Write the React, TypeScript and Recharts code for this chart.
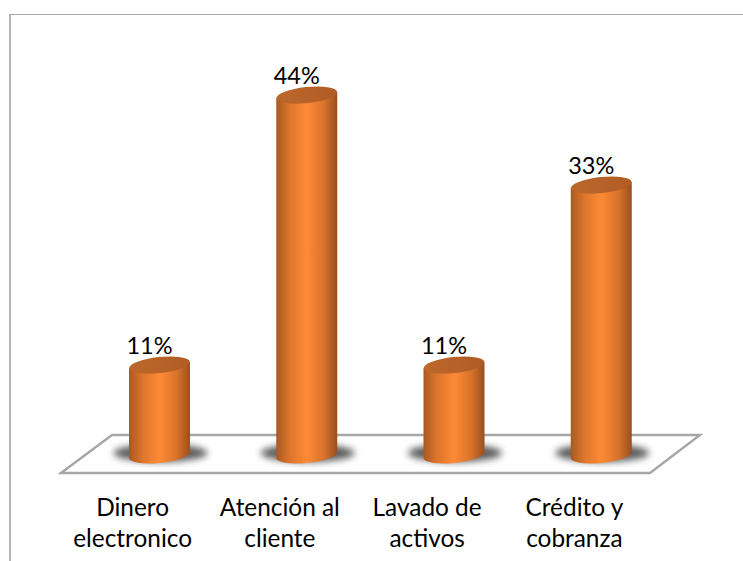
import { BarChart, Bar, XAxis, YAxis, LabelList, usePlotArea } from "recharts";

const categories = ["Dinero electronico", "Atención al cliente", "Lavado de activos", "Crédito y cobranza"];
const tickLines = [
  ["Dinero", "electronico"],
  ["Atención al", "cliente"],
  ["Lavado de", "activos"],
  ["Crédito y", "cobranza"],
];
const shares = [11, 44, 11, 33];

const data = categories.map((nombre, i) => ({ nombre, valor: shares[i] }));

const FONT = "Lato, 'Open Sans', sans-serif";

function Floor() {
  const plot = usePlotArea();
  if (!plot) return null;
  const left = plot.x;
  const right = plot.x + plot.width;
  const base = plot.y + plot.height;
  const pts = [
    [left - 25, base + 18],
    [left + 26, base - 20],
    [right + 25, base - 20],
    [right - 25, base + 18],
  ];
  return <polygon points={pts.map((p) => p.join(",")).join(" ")} fill="#ffffff" stroke="#a6a6a6" strokeWidth={2.4} />;
}

function Cylinder(props: any) {
  const { x, y, width, height } = props;
  const rx = width / 2;
  const bottom = y + height;
  const cx = x + rx;
  const tilt = 3;
  return (
    <g>
      <ellipse cx={cx + 1} cy={bottom - 2} rx={47} ry={9} fill="#3f3f3f" opacity={0.85} filter="url(#sombra)" />
      <path
        d={`M${x},${y + tilt} L${x},${bottom + tilt} A${rx},8 -6 0 0 ${x + width},${bottom - tilt} L${x + width},${y - tilt} Z`}
        fill="url(#cuerpo)"
      />
      <ellipse cx={cx} cy={y} rx={rx} ry={8} transform={`rotate(-6 ${cx} ${y})`} fill="url(#tapa)" />
    </g>
  );
}

function CategoryTick(props: any) {
  const { x, y, index } = props;
  return (
    <text x={x - 27} y={y} textAnchor="middle" fontFamily={FONT} fontSize={24.4} fill="#000000">
      {tickLines[index].map((line, i) => (
        <tspan key={line} x={x - 27} dy={i === 0 ? 53 : 30.5}>
          {line}
        </tspan>
      ))}
    </text>
  );
}

export default function App() {
  return (
    <div style={{ position: "absolute", left: 0, top: 0, width: 743, height: 561, overflow: "hidden", background: "#fff" }}>
      <div
        style={{
          position: "absolute",
          left: 9,
          top: 14,
          width: 734,
          height: 547,
          borderLeft: "2px solid #b4b4b4",
          borderTop: "1px solid #a6a6a6",
        }}
      />
      <div style={{ position: "absolute", left: 0, top: 0 }}>
        <BarChart width={743} height={561} data={data} margin={{ top: 46, right: 68, bottom: 0, left: 86 }} barSize={61}>
          <defs>
            <linearGradient id="cuerpo" x1="0" y1="0" x2="1" y2="0">
              <stop offset="0%" stopColor="#a95923" />
              <stop offset="22%" stopColor="#dc752b" />
              <stop offset="50%" stopColor="#ff8a35" />
              <stop offset="78%" stopColor="#d8732b" />
              <stop offset="100%" stopColor="#9a4f1e" />
            </linearGradient>
            <linearGradient id="tapa" x1="0" y1="0" x2="1" y2="0">
              <stop offset="0%" stopColor="#bd672b" />
              <stop offset="100%" stopColor="#b05c25" />
            </linearGradient>
            <filter id="sombra" x="-30%" y="-60%" width="160%" height="220%">
              <feGaussianBlur stdDeviation="3.5" />
            </filter>
          </defs>
          <Floor />
          <XAxis dataKey="nombre" height={106} axisLine={false} tickLine={false} interval={0} tick={<CategoryTick />} />
          <YAxis hide domain={[0, 50]} />
          <Bar dataKey="valor" shape={<Cylinder />} isAnimationActive={false}>
            <LabelList
              dataKey="valor"
              position="top"
              offset={11}
              dx={-10}
              formatter={(v: any) => `${v}%`}
              fontFamily={FONT}
              fontSize={23.5}
              fill="#000000"
            />
          </Bar>
        </BarChart>
      </div>
    </div>
  );
}
